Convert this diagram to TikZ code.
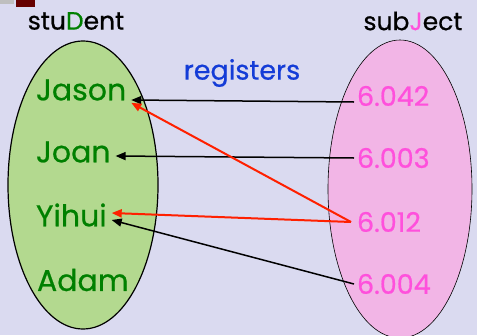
\documentclass[tikz,border=0pt]{standalone}
\usepackage{fontspec}
\setmainfont{Poppins}[FakeBold=0.6]
\usetikzlibrary{arrows.meta}
\definecolor{bgcol}{RGB}{218,218,240}
\definecolor{stufill}{RGB}{179,217,143}
\definecolor{subfill}{RGB}{242,181,230}
\definecolor{stutext}{RGB}{0,128,0}
\definecolor{subtext}{RGB}{255,80,220}
\definecolor{regblue}{RGB}{20,60,215}
\definecolor{regred}{RGB}{255,32,0}
\tikzset{
  title/.style={font=\fontsize{25}{25}\selectfont, inner sep=0pt},
  stu/.style={text=stutext, font=\fontsize{30}{30}\selectfont, anchor=west, inner ysep=2pt, inner xsep=0pt, outer xsep=5pt},
  sub/.style={text=subtext, font=\fontsize{27}{27}\selectfont, anchor=west, inner ysep=2pt, inner xsep=0pt, outer xsep=3pt},
  regarrow/.style={line width=1.5pt, -{Triangle[length=10pt,width=8pt]}},
}
\begin{document}
\begin{tikzpicture}[x=1pt, y=-1pt]
        \fill[bgcol] (0, 0) rectangle (477, 335);
        \useasboundingbox (0, 0) rectangle (477, 335);
        \fill[black!25] (0, 0) rectangle (14, 4);
        \fill[red!40!black] (16, 0) rectangle (35, 7);

        \draw[fill=stufill, line width=1.2pt] (83, 185) ellipse [x radius=75pt, y radius=144pt];
        \draw[fill=subfill, line width=0.6pt] (400, 189) ellipse [x radius=72pt, y radius=149pt];

        \node[title] (student) at (76, 21) {stu\textcolor{stutext}{D}ent};
        \node[title] (subject) at (413, 21) {sub\textcolor{subtext}{J}ect};
        \node[text=regblue, font=\fontsize{27}{27}\selectfont, inner sep=0pt] (registers) at (242, 73) {registers};

        \node[stu] (jason) at (31, 90) {Jason};
        \node[stu] (joan) at (31, 152) {Joan};
        \node[stu] (yihui) at (31, 215) {Yihui};
        \node[stu] (adam) at (32, 280) {Adam};

        \node[sub] (c042) at (354, 96) {6.042};
        \node[sub] (c003) at (354, 158) {6.003};
        \node[sub] (c012) at (354, 222) {6.012};
        \node[sub] (c004) at (354, 284) {6.004};

        \draw[regarrow] ([yshift=-6pt]c042.west) -- ([yshift=-10pt]jason.east);
        \draw[regarrow] (c003.west) -- ([yshift=-4pt]joan.east);
        \draw[regarrow] (c004.west) -- ([yshift=-5pt]yihui.east);
        \draw[regarrow, regred, line width=2pt] ([xshift=-3pt]c012.west) -- (jason.south east);
        \draw[regarrow, regred, line width=2pt] ([xshift=-3pt]c012.west) -- ([yshift=2pt]yihui.east);
      \end{tikzpicture}
\end{document}
